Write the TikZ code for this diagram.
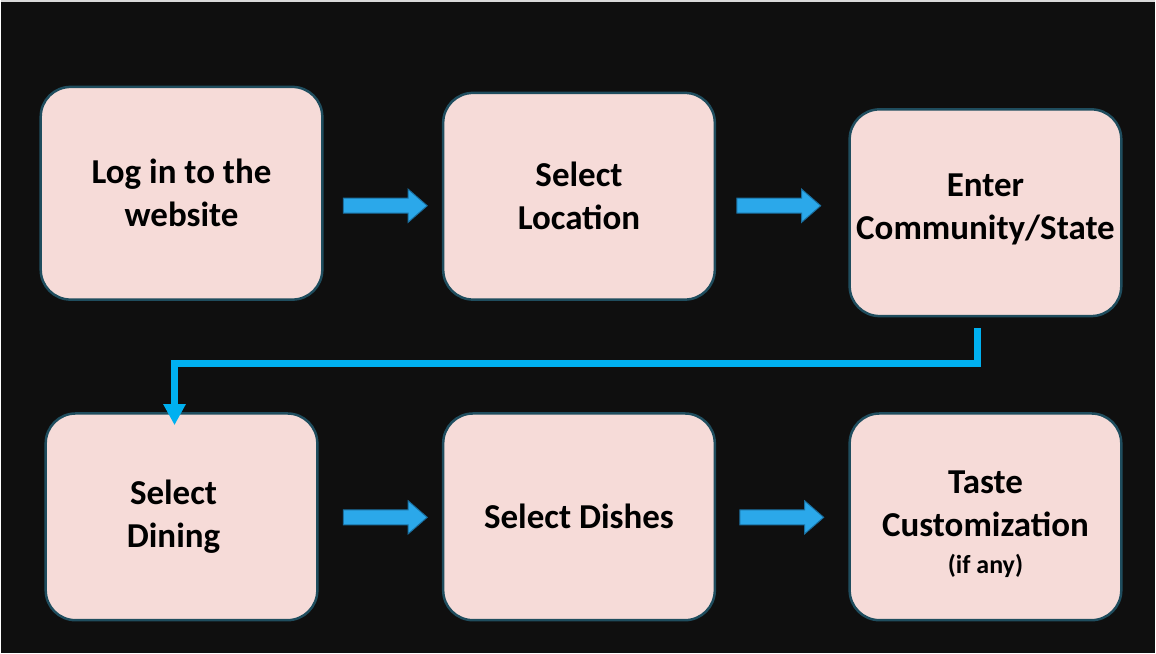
\documentclass[tikz,border=0pt]{standalone}
\usepackage{fontspec}
\setmainfont{Carlito}
\usetikzlibrary{arrows.meta,calc}
\definecolor{bg}{HTML}{0F0F0F}
\definecolor{boxfill}{HTML}{F6DBD8}
\definecolor{boxline}{HTML}{1F4D5E}
\definecolor{arrfill}{HTML}{2BA8EA}
\definecolor{arrline}{HTML}{1A6E9E}
\definecolor{conncol}{HTML}{00B0F0}
\tikzset{
  stepbox/.style={draw=boxline, line width=2.5pt, fill=boxfill, rounded corners=30pt,
    minimum width=272pt, minimum height=207pt, inner sep=0pt, align=center,
    font=\fontsize{35}{43}\selectfont\bfseries},
  barrow/.style={draw=arrline, fill=arrfill, line width=1pt, line join=miter},
  conn/.style={draw=conncol, line width=7pt, line join=miter,
    -{Triangle[width=21pt,length=21pt]}},
}
% block arrow centred on a named coordinate
\newcommand{\blockarrowat}[1]{%
  \path[barrow] ([shift={(-42,-7.5)}]#1) -- ([shift={(23,-7.5)}]#1)
    -- ([shift={(23,-16.5)}]#1) -- ([shift={(42,0)}]#1)
    -- ([shift={(23,16.5)}]#1) -- ([shift={(23,7.5)}]#1)
    -- ([shift={(-42,7.5)}]#1) -- cycle;}
\begin{document}
\begin{tikzpicture}[x=1pt,y=-1pt]
\fill[bg] (0,0) rectangle (1156,654);
\draw[white!85!black, line width=1.5pt] (0,0.75) -- (1156,0.75);
\useasboundingbox (0,0) rectangle (1156,654);

\node[stepbox, minimum width=282pt, minimum height=213pt] (a) at (181,193.5) {Log in to the\\website};
\node[stepbox] (b) at (579,196.5) {Select\\Location};
\node[stepbox] (c) at (986,213) {Enter\\Community/State\\[-30pt]\mbox{}};
\node[stepbox] (d) at (181,517.5) {Select\hspace*{16pt}\\Dining\hspace*{16pt}};
\node[stepbox] (e) at (579,517.5) {Select Dishes};
\node[stepbox] (f) at (986,517.5) {\mbox{}\\[-5pt]Taste\\Customization\\[-6pt]{\fontsize{26}{28}\selectfont (if any)}};

\coordinate (ab) at (385,206);
\coordinate (bc) at (779,206);
\coordinate (de) at (385,518);
\coordinate (ef) at (782,518);
\blockarrowat{ab}
\blockarrowat{bc}
\blockarrowat{de}
\blockarrowat{ef}

\coordinate (s) at ([xshift=-8pt,yshift=-11pt]c.south);
\coordinate (t) at ([xshift=-7pt,yshift=-13pt]d.north);
\draw[conn] (s) -- (s |- 0,364) -- (t |- 0,364) -- (t);
\end{tikzpicture}
\end{document}
